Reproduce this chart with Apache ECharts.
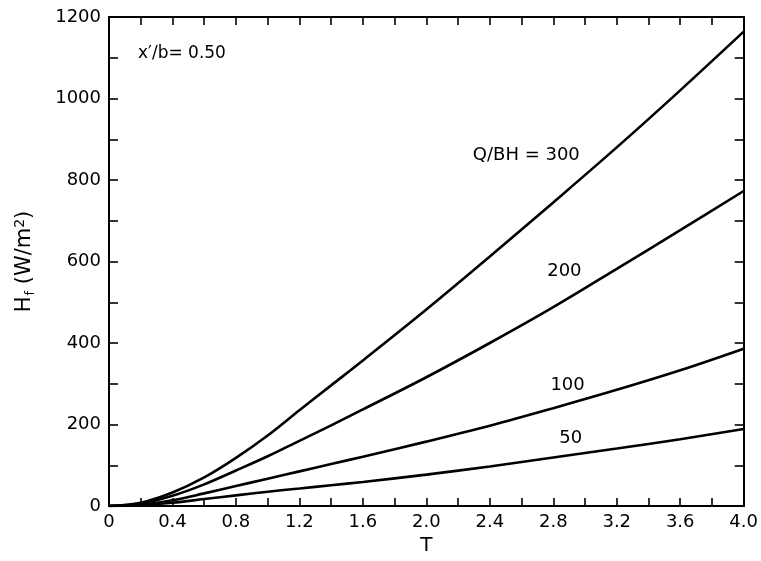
<!DOCTYPE html>
<html>
<head>
<meta charset="utf-8">
<script src="https://cdn.jsdelivr.net/npm/echarts@6/dist/echarts.min.js"></script>
<style>
  html, body { margin: 0; padding: 0; background: #fff; }
  #chart { width: 761px; height: 561px; }
</style>
</head>
<body>
<div id="chart"></div>
<script>
// Dimensionless time T
const tValues = [0, 0.2, 0.4, 0.6, 0.8, 1.0, 1.2, 1.4, 1.6, 2.0, 2.4, 2.8, 3.2, 3.6, 4.0];

// Heat flux H_f (W/m²) for each Q/BH
const hf300 = [0, 8, 33, 70, 118, 173, 235, 296, 357, 482, 612, 745, 880, 1020, 1164];
const hf200 = [0, 6, 25, 53, 87, 122, 160, 198, 237, 316, 400, 488, 582, 677, 773];
const hf100 = [0, 3, 14, 31, 49, 67, 85, 103, 121, 158, 197, 240, 285, 333, 386];
const hf50  = [0, 2, 8, 17, 26, 35, 43, 51, 59, 77, 97, 119, 141, 164, 189];

const curveNames = ['Q/BH = 300', '200', '100', '50'];
const curves = [hf300, hf200, hf100, hf50];

// Inline curve labels: [T, H_f] anchor for each label
const labelT = [2.63, 2.87, 2.89, 2.91];
const labelH = [860, 576, 295, 165];

const FONT = 'DejaVu Sans';
const INK = '#000';

const chart = echarts.init(document.getElementById('chart'), null, { renderer: 'canvas' });

function pair(xs, ys) { return xs.map((x, i) => [x, ys[i]]); }

const lineSeries = curves.map((vals, i) => ({
  name: curveNames[i],
  type: 'line',
  data: pair(tValues, vals),
  smooth: 0.35,
  symbol: 'none',
  lineStyle: { color: INK, width: 2.6 },
  z: 3
}));

const xCommon = {
  type: 'value', min: 0, max: 4, interval: 0.2,
  axisLine: { show: true, onZero: false, lineStyle: { color: INK, width: 2 } },
  axisTick: { show: true, inside: true, length: 8, lineStyle: { color: INK, width: 1.6 } },
  splitLine: { show: false }
};
const yCommon = {
  type: 'value', min: 0, max: 1200, interval: 100,
  axisLine: { show: true, onZero: false, lineStyle: { color: INK, width: 2 } },
  axisTick: { show: true, inside: true, length: 9, lineStyle: { color: INK, width: 1.6 } },
  splitLine: { show: false }
};

chart.setOption({
  animation: false,
  backgroundColor: '#fff',
  grid: { left: 109, top: 17, right: 17, bottom: 53, containLabel: false },
  xAxis: [
    Object.assign({}, xCommon, {
      position: 'bottom',
      name: 'T',
      nameLocation: 'middle',
      nameGap: 30,
      nameTextStyle: { color: INK, fontFamily: FONT, fontSize: 20 },
      axisLabel: {
        color: INK, fontFamily: FONT, fontSize: 18, margin: 7,
        showMaxLabel: true, showMinLabel: true,
        formatter: v => (Math.round(v / 0.2) % 2 === 0 ? (v === 0 ? '0' : v.toFixed(1)) : '')
      }
    }),
    Object.assign({}, xCommon, { position: 'top', axisLabel: { show: false } })
  ],
  yAxis: [
    Object.assign({}, yCommon, {
      position: 'left',
      name: '{h|H}{s|f}{h| (W/m}{p|2}{h|)}',
      nameLocation: 'middle',
      nameGap: 72,
      nameRotate: 90,
      nameTextStyle: {
        color: INK,
        rich: {
          h: { fontFamily: FONT, fontSize: 21, color: INK },
          s: { fontFamily: FONT, fontSize: 13, color: INK, verticalAlign: 'bottom', padding: [10, 0, 0, 1] },
          p: { fontFamily: FONT, fontSize: 14, color: INK, verticalAlign: 'top', padding: [0, 0, 10, 0] }
        }
      },
      axisLabel: {
        color: INK, fontFamily: FONT, fontSize: 18, margin: 8,
        formatter: v => (Math.round(v / 100) % 2 === 0 ? String(v) : '')
      }
    }),
    Object.assign({}, yCommon, { position: 'right', axisLabel: { show: false } })
  ],
  series: lineSeries
});

// Curve labels and the parameter note, placed through the grid's own scales
const notes = labelT.map((t, i) => {
  const p = chart.convertToPixel({ gridIndex: 0 }, [t, labelH[i]]);
  return {
    type: 'text', x: p[0], y: p[1], z: 10,
    style: {
      text: curveNames[i], fill: INK, align: 'center', verticalAlign: 'middle',
      font: '18px "DejaVu Sans"'
    }
  };
});
notes.push({
  type: 'text', left: 138, top: 45, z: 10,
  style: { text: 'x′/b= 0.50', fill: INK, font: '17px "DejaVu Sans"' }
});
chart.setOption({ graphic: notes });
</script>
</body>
</html>
